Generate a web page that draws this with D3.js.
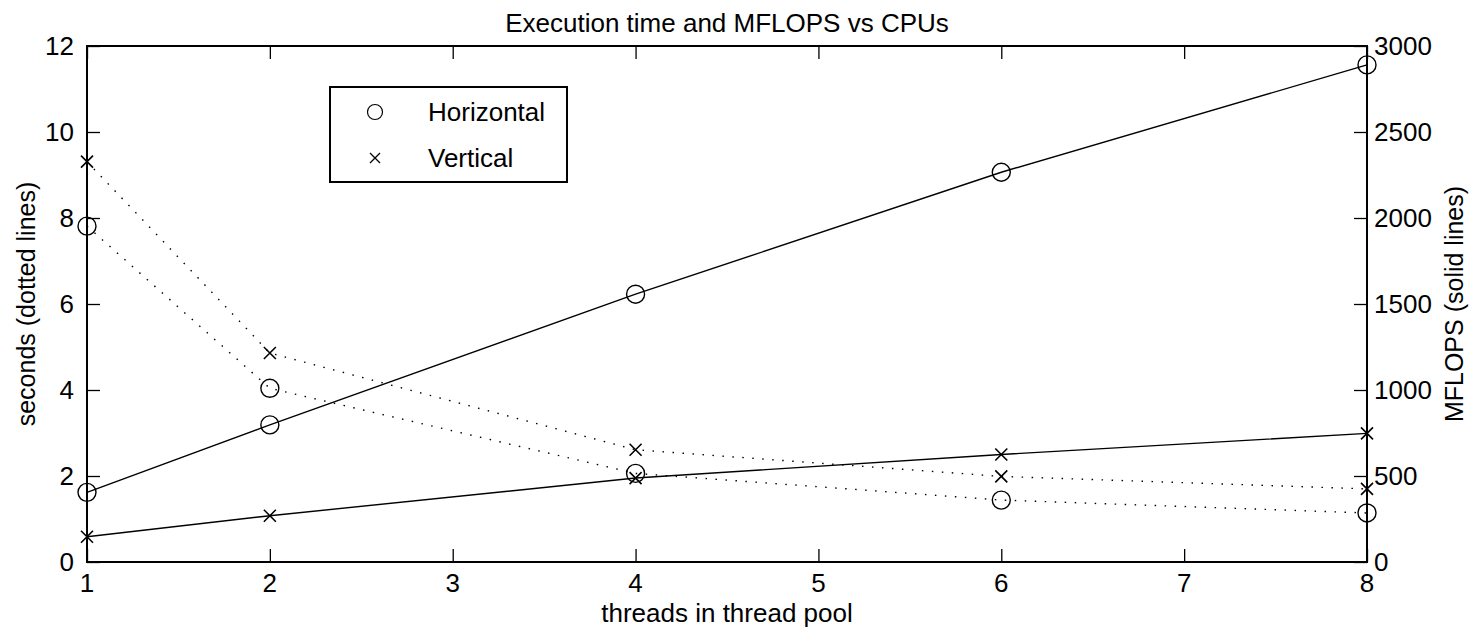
<!DOCTYPE html>
<html>
<head>
<meta charset="utf-8">
<script src="https://cdn.jsdelivr.net/npm/d3@7"></script>
<style>
  body { margin: 0; background: #fff; }
  svg text { font-family: "Liberation Sans", Arial, sans-serif; fill: #000; }
</style>
</head>
<body>
<div id="chart"></div>
<script>
(function() {
	'use strict';

	// Threads used in each run
	const threads = [1, 2, 4, 6, 8];

	// Execution time in seconds (dotted lines, left axis)
	const horizSeconds = [7.81, 4.04, 2.06, 1.44, 1.14];
	const vertSeconds = [9.31, 4.86, 2.61, 1.99, 1.70];

	// MFLOPS (solid lines, right axis)
	const horizMflops = [405, 797, 1557, 2266, 2890];
	const vertMflops = [147, 269, 488, 625, 748];

	// Tick values
	const xTicks = [1, 2, 3, 4, 5, 6, 7, 8];
	const secTicks = [0, 2, 4, 6, 8, 10, 12];
	const mflopsTicks = [0, 500, 1000, 1500, 2000, 2500, 3000];

	const width = 1473;
	const height = 632;
	const margin = { top: 46, right: 106, bottom: 70, left: 87 };
	const tickLen = 13;
	const fontSize = 26;

	const svg = d3.select('#chart')
		.append('svg')
		.attr('width', width)
		.attr('height', height);

	const x = d3.scaleLinear()
		.domain([1, 8])
		.range([margin.left, width - margin.right]);

	const ySec = d3.scaleLinear()
		.domain([0, 12])
		.range([height - margin.bottom, margin.top]);

	const yMf = d3.scaleLinear()
		.domain([0, 3000])
		.range([height - margin.bottom, margin.top]);

	// Axes with inward ticks
	svg.append('g')
		.attr('transform', `translate(0,${height - margin.bottom})`)
		.call(d3.axisTop(x).tickValues(xTicks).tickSize(tickLen).tickFormat(''))
		.call(g => g.select('.domain').remove());

	svg.append('g')
		.attr('transform', `translate(0,${margin.top})`)
		.call(d3.axisBottom(x).tickValues(xTicks).tickSize(tickLen).tickFormat(''))
		.call(g => g.select('.domain').remove());

	svg.append('g')
		.attr('transform', `translate(${margin.left},0)`)
		.call(d3.axisRight(ySec).tickValues(secTicks).tickSize(tickLen).tickFormat(''))
		.call(g => g.select('.domain').remove());

	svg.append('g')
		.attr('transform', `translate(${width - margin.right},0)`)
		.call(d3.axisLeft(yMf).tickValues(mflopsTicks).tickSize(tickLen).tickFormat(''))
		.call(g => g.select('.domain').remove());

	svg.selectAll('.tick line').attr('stroke', '#000').attr('stroke-width', 1.3);

	// Tick labels
	svg.append('g')
		.selectAll('text')
		.data(xTicks)
		.join('text')
		.attr('x', d => x(d))
		.attr('y', height - margin.bottom + 30)
		.attr('text-anchor', 'middle')
		.attr('font-size', fontSize)
		.text(d => d);

	svg.append('g')
		.selectAll('text')
		.data(secTicks)
		.join('text')
		.attr('x', margin.left - 13)
		.attr('y', d => ySec(d))
		.attr('dy', '0.35em')
		.attr('text-anchor', 'end')
		.attr('font-size', fontSize)
		.text(d => d);

	svg.append('g')
		.selectAll('text')
		.data(mflopsTicks)
		.join('text')
		.attr('x', width - margin.right + 7)
		.attr('y', d => yMf(d))
		.attr('dy', '0.35em')
		.attr('text-anchor', 'start')
		.attr('font-size', fontSize)
		.text(d => d);

	// Frame
	svg.append('rect')
		.attr('x', margin.left)
		.attr('y', margin.top)
		.attr('width', width - margin.left - margin.right)
		.attr('height', height - margin.top - margin.bottom)
		.attr('fill', 'none')
		.attr('stroke', '#000')
		.attr('stroke-width', 2);

	// Lines
	const secLine = d3.line()
		.x((d, i) => x(threads[i]))
		.y(d => ySec(d));

	const mfLine = d3.line()
		.x((d, i) => x(threads[i]))
		.y(d => yMf(d));

	[horizSeconds, vertSeconds].forEach(series => {
		svg.append('path')
			.datum(series)
			.attr('d', secLine)
			.attr('fill', 'none')
			.attr('stroke', '#000')
			.attr('stroke-width', 1.4)
			.attr('stroke-dasharray', '1.5,8.5');
	});

	[horizMflops, vertMflops].forEach(series => {
		svg.append('path')
			.datum(series)
			.attr('d', mfLine)
			.attr('fill', 'none')
			.attr('stroke', '#000')
			.attr('stroke-width', 1.4);
	});

	// Markers
	function circles(series, yScale) {
		svg.append('g')
			.selectAll('circle')
			.data(series)
			.join('circle')
			.attr('cx', (d, i) => x(threads[i]))
			.attr('cy', d => yScale(d))
			.attr('r', 9)
			.attr('fill', 'none')
			.attr('stroke', '#000')
			.attr('stroke-width', 1.4);
	}

	function crosses(series, yScale, s) {
		svg.append('g')
			.selectAll('path')
			.data(series)
			.join('path')
			.attr('d', (d, i) => {
				const cx = x(threads[i]);
				const cy = yScale(d);
				return `M${cx - s},${cy - s}L${cx + s},${cy + s}M${cx - s},${cy + s}L${cx + s},${cy - s}`;
			})
			.attr('fill', 'none')
			.attr('stroke', '#000')
			.attr('stroke-width', 1.6);
	}

	circles(horizSeconds, ySec);
	circles(horizMflops, yMf);
	crosses(vertSeconds, ySec, 6);
	crosses(vertMflops, yMf, 6);

	// Title and axis labels
	svg.append('text')
		.attr('x', (margin.left + width - margin.right) / 2)
		.attr('y', 32)
		.attr('text-anchor', 'middle')
		.attr('font-size', 26)
		.text('Execution time and MFLOPS vs CPUs');

	svg.append('text')
		.attr('x', (margin.left + width - margin.right) / 2)
		.attr('y', 622)
		.attr('text-anchor', 'middle')
		.attr('font-size', fontSize)
		.text('threads in thread pool');

	svg.append('text')
		.attr('transform', `translate(35,${(margin.top + height - margin.bottom) / 2}) rotate(-90)`)
		.attr('text-anchor', 'middle')
		.attr('font-size', 25)
		.text('seconds (dotted lines)');

	svg.append('text')
		.attr('transform', `translate(1463,${(margin.top + height - margin.bottom) / 2}) rotate(-90)`)
		.attr('text-anchor', 'middle')
		.attr('font-size', 25)
		.text('MFLOPS (solid lines)');

	// Legend
	const legend = svg.append('g').attr('transform', 'translate(330,87)');
	legend.append('rect')
		.attr('width', 237)
		.attr('height', 95)
		.attr('fill', '#fff')
		.attr('stroke', '#000')
		.attr('stroke-width', 2);

	legend.append('circle')
		.attr('cx', 45)
		.attr('cy', 25)
		.attr('r', 7.5)
		.attr('fill', 'none')
		.attr('stroke', '#000')
		.attr('stroke-width', 1.2);

	legend.append('path')
		.attr('d', 'M40,66L50,76M40,76L50,66')
		.attr('stroke', '#000')
		.attr('stroke-width', 1.3);

	legend.append('text')
		.attr('x', 98)
		.attr('y', 25)
		.attr('dy', '0.35em')
		.attr('font-size', 26)
		.text('Horizontal');

	legend.append('text')
		.attr('x', 98)
		.attr('y', 71)
		.attr('dy', '0.35em')
		.attr('font-size', 26)
		.text('Vertical');
})();
</script>
</body>
</html>
